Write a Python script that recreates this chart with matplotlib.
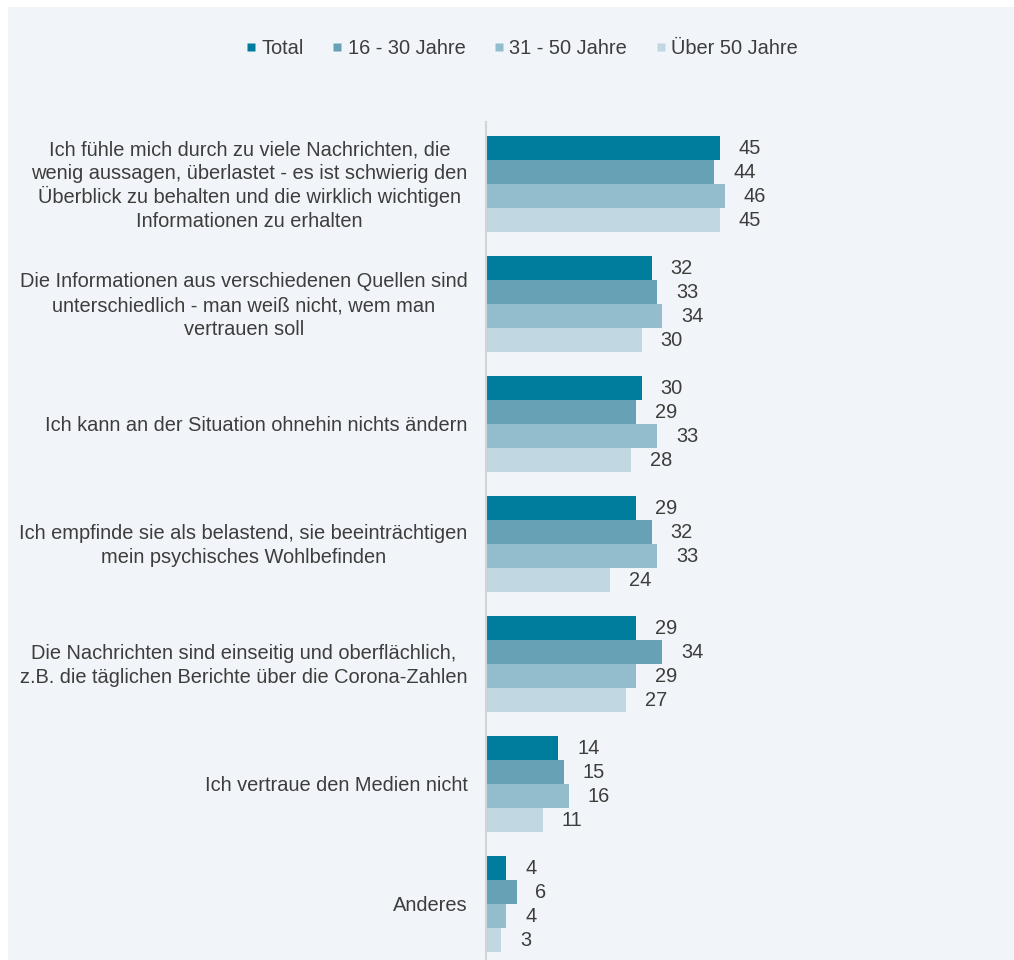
import matplotlib
matplotlib.use("Agg")
import matplotlib.pyplot as plt
from matplotlib.patches import Rectangle
from matplotlib.lines import Line2D
import numpy as np

plt.rcParams['font.family'] = ['Liberation Sans', 'DejaVu Sans']

# answers (share in %) per age group
categories = [
    "Ich fühle mich durch zu viele Nachrichten, die\nwenig aussagen, überlastet - es ist schwierig den\nÜberblick zu behalten und die wirklich wichtigen\nInformationen zu erhalten",
    "Die Informationen aus verschiedenen Quellen sind\nunterschiedlich - man weiß nicht, wem man\nvertrauen soll",
    "Ich kann an der Situation ohnehin nichts ändern",
    "Ich empfinde sie als belastend, sie beeinträchtigen\nmein psychisches Wohlbefinden",
    "Die Nachrichten sind einseitig und oberflächlich,\nz.B. die täglichen Berichte über die Corona-Zahlen",
    "Ich vertraue den Medien nicht",
    "Anderes",
]
series_names = ["Total", "16 - 30 Jahre", "31 - 50 Jahre", "Über 50 Jahre"]
total = [45, 32, 30, 29, 29, 14, 4]
age_16_30 = [44, 33, 29, 32, 34, 15, 6]
age_31_50 = [46, 34, 33, 33, 29, 16, 4]
age_50_plus = [45, 30, 28, 24, 27, 11, 3]
colors = ["#007d9c", "#66a1b5", "#93bccd", "#c1d7e1"]

text_color = "#3d3d3d"
fs = 14.4
pt = 0.72  # points per pixel at dpi 100

W, H = 1014, 960
fig = plt.figure(figsize=(W / 100, H / 100), dpi=100, facecolor="white")
# light panel behind everything, white margin left and top
fig.patches.append(Rectangle((8 / W, 0), 1 - 8 / W, 1 - 7 / H,
                             transform=fig.transFigure, facecolor="#f1f4f8",
                             edgecolor="none", zorder=-1))

x0 = 485.5
top = 122
ax = fig.add_axes([x0 / W, 0, (W - x0) / W, (H - top) / H])
ax.set_facecolor("none")

px_per_unit = 5.2
ax.set_xlim(0, (W - x0) / px_per_unit)
group_px = 120
y_top = -62 / group_px
ax.set_ylim(y_top + (H - top) / group_px, y_top)

y = np.arange(len(categories))
bar_h = 0.2
offsets = [-0.3, -0.1, 0.1, 0.3]
for vals, off, c in zip([total, age_16_30, age_31_50, age_50_plus], offsets, colors):
    bars = ax.barh(y + off, vals, height=bar_h, color=c, edgecolor="none", zorder=2)
    for b, v in zip(bars, vals):
        ax.annotate(str(v), xy=(b.get_width(), b.get_y() + b.get_height() / 2),
                    xytext=(13.5, 0), textcoords="offset points",
                    ha="left", va="center", fontsize=fs, color=text_color)

# category labels: one text per line so the line pitch stays even,
# lines centred on each other, block right-aligned next to the axis
renderer = fig.canvas.get_renderer()
line_px = 24
for i, lab in enumerate(categories):
    lines = lab.split("\n")
    n = len(lines)
    texts = []
    for k, ln in enumerate(lines):
        dy = ((n - 1) / 2 - k) * line_px - 7
        t = ax.annotate(ln, xy=(0, i), xytext=(0, dy * pt), textcoords="offset points",
                        ha="center", va="baseline", fontsize=fs, color=text_color,
                        annotation_clip=False)
        texts.append(t)
    widths = [t.get_window_extent(renderer).width for t in texts]
    cx = -18 - max(widths) / 2
    for t in texts:
        t.xyann = (cx * pt, t.xyann[1])

for s in ["top", "right", "bottom"]:
    ax.spines[s].set_visible(False)
ax.spines["left"].set_color("#d2d4d6")
ax.spines["left"].set_linewidth(1.5)
ax.set_xticks([])
ax.set_yticks([])

handles = [Line2D([], [], marker="s", linestyle="none", markersize=5.8,
                  markerfacecolor=c, markeredgecolor="none") for c in colors]
fig.legend(handles, series_names, loc="center", bbox_to_anchor=(522 / W, 1 - 48 / H),
           ncol=4, frameon=False, fontsize=fs, handlelength=0.45,
           handletextpad=0.3, columnspacing=1.45, labelcolor=text_color)

fig.savefig("out.png", dpi=100, facecolor="white")
